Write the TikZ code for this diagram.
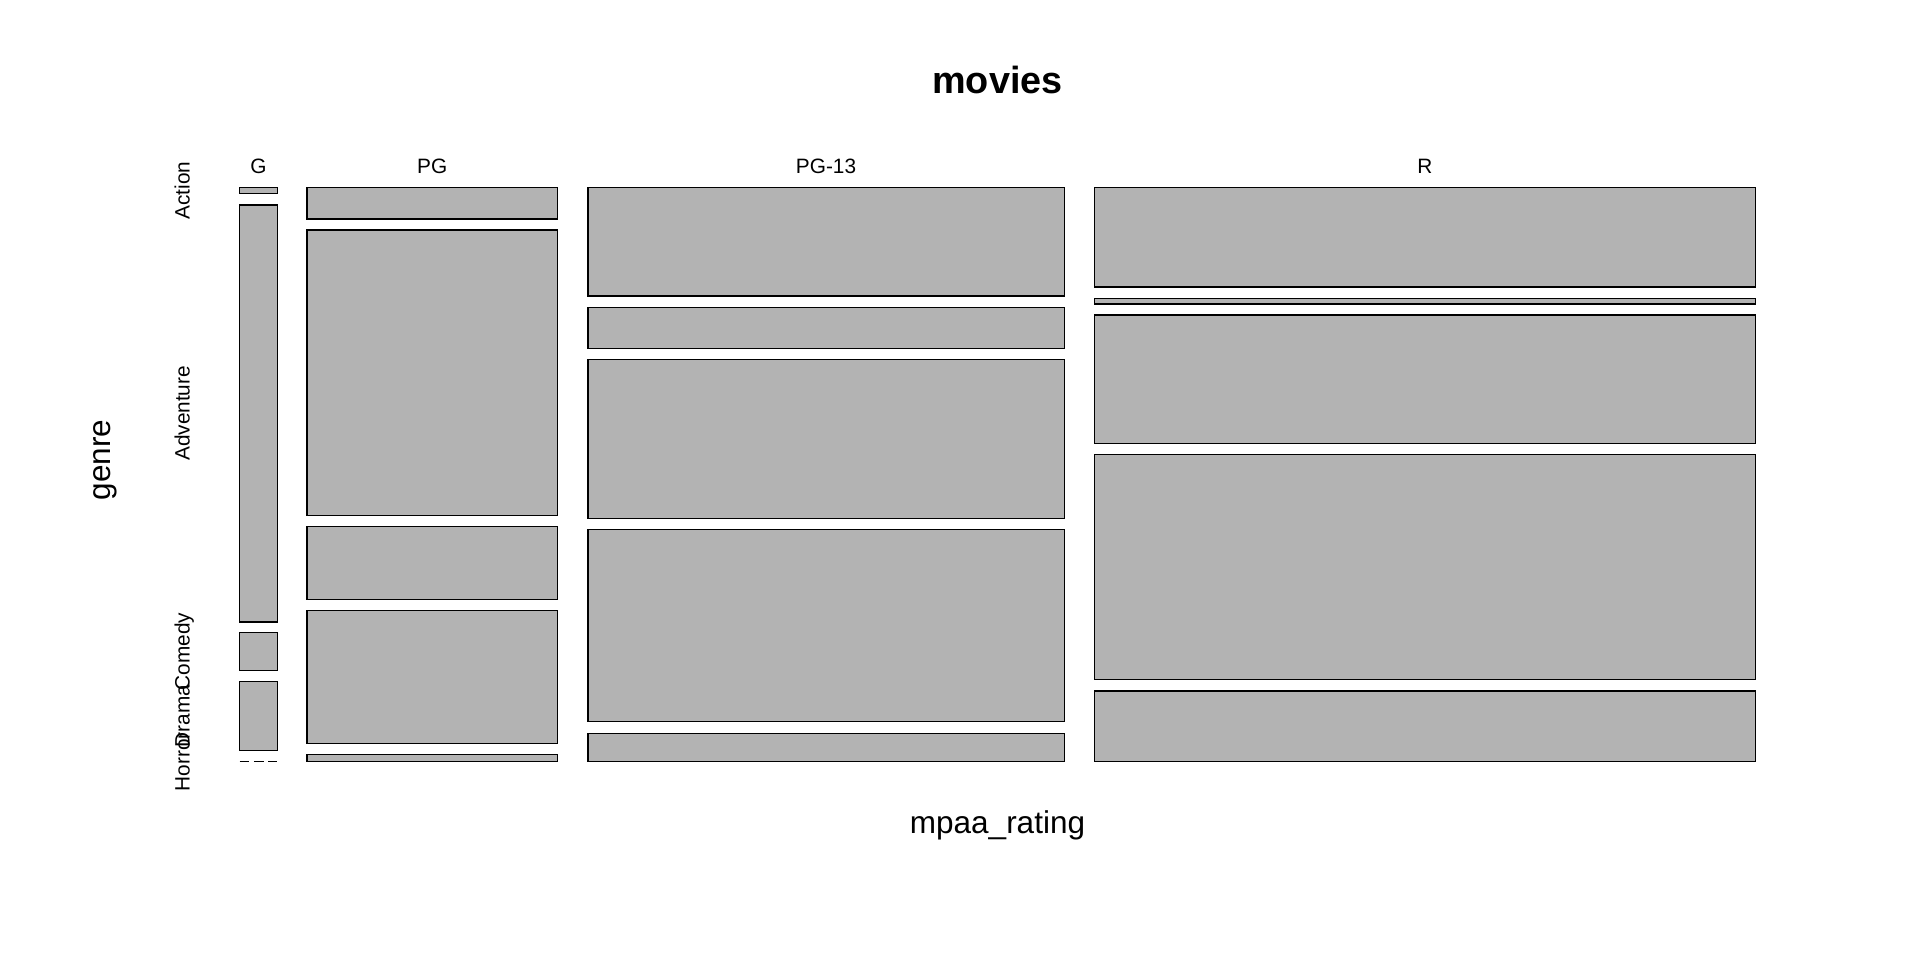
\documentclass[tikz,border=0pt]{standalone}
\usepackage{fontspec}
\setmainfont{Liberation Sans}
\definecolor{tilegray}{RGB}{179,179,179}
\tikzset{
  tile/.style={draw=black, fill=tilegray, line width=0.75pt},
  ticklab/.style={font=\fontsize{10.4}{12}\selectfont, anchor=base, inner sep=0pt},
  axislab/.style={font=\fontsize{15.75}{18}\selectfont, anchor=base, inner sep=0pt}
}
\begin{document}
\begin{tikzpicture}[x=0.5pt,y=-0.5pt]
      \fill[white] (0,0) rectangle (1920,960);
      \useasboundingbox (0,0) rectangle (1920,960);
      \node[font=\fontsize{18.9}{22}\selectfont\bfseries, anchor=base, inner sep=0pt] (title) at (997.5,93) {movies};
      \node[axislab] (xlab) at (997.5,833) {mpaa\_rating};
      \node[axislab, rotate=90] (ylab) at (110,460) {genre};
      \node[ticklab] (g) at (258.4,173) {G};
      \node[ticklab] (pg) at (432.2,173) {PG};
      \node[ticklab] (pg13) at (826,173) {PG-13};
      \node[ticklab] (r) at (1424.8,173) {R};
      \node[ticklab, rotate=90] (action) at (189.5,190.4) {Action};
      \node[ticklab, rotate=90] (adventure) at (189.5,413.4) {Adventure};
      \node[ticklab, rotate=90] (comedy) at (189.5,651.5) {Comedy};
      \node[ticklab, rotate=90] (drama) at (189.5,715.8) {Drama};
      \node[ticklab, rotate=90] (horror) at (189.5,761.7) {Horror};
      \draw[tile] (239.5,187.3) rectangle (277.3,193.6);
      \draw[tile] (239.5,205) rectangle (277.3,621.8);
      \draw[tile] (239.5,632.7) rectangle (277.3,670.3);
      \draw[tile] (239.5,681.3) rectangle (277.3,750.3);
      \draw[line width=0.75pt, dash pattern=on 4.85pt off 2.3pt] (239.5,761.7) -- (277.3,761.7);
      \draw[tile] (307,187.3) rectangle (557.3,219);
      \draw[tile] (307,230) rectangle (557.3,515.5);
      \draw[tile] (307,526.5) rectangle (557.3,599.3);
      \draw[tile] (307,610.7) rectangle (557.3,743.7);
      \draw[tile] (307,754.7) rectangle (557.3,761.7);
      \draw[tile] (587.8,187.3) rectangle (1064.3,296);
      \draw[tile] (587.8,307.7) rectangle (1064.3,348.3);
      \draw[tile] (587.8,359.3) rectangle (1064.3,518.3);
      \draw[tile] (587.8,529.3) rectangle (1064.3,721.7);
      \draw[tile] (587.8,733.3) rectangle (1064.3,761.7);
      \draw[tile] (1094.3,187.3) rectangle (1755.3,287);
      \draw[tile] (1094.3,298.7) rectangle (1755.3,304);
      \draw[tile] (1094.3,315) rectangle (1755.3,443.3);
      \draw[tile] (1094.3,454.3) rectangle (1755.3,679.3);
      \draw[tile] (1094.3,691) rectangle (1755.3,761.7);
    \end{tikzpicture}
\end{document}
